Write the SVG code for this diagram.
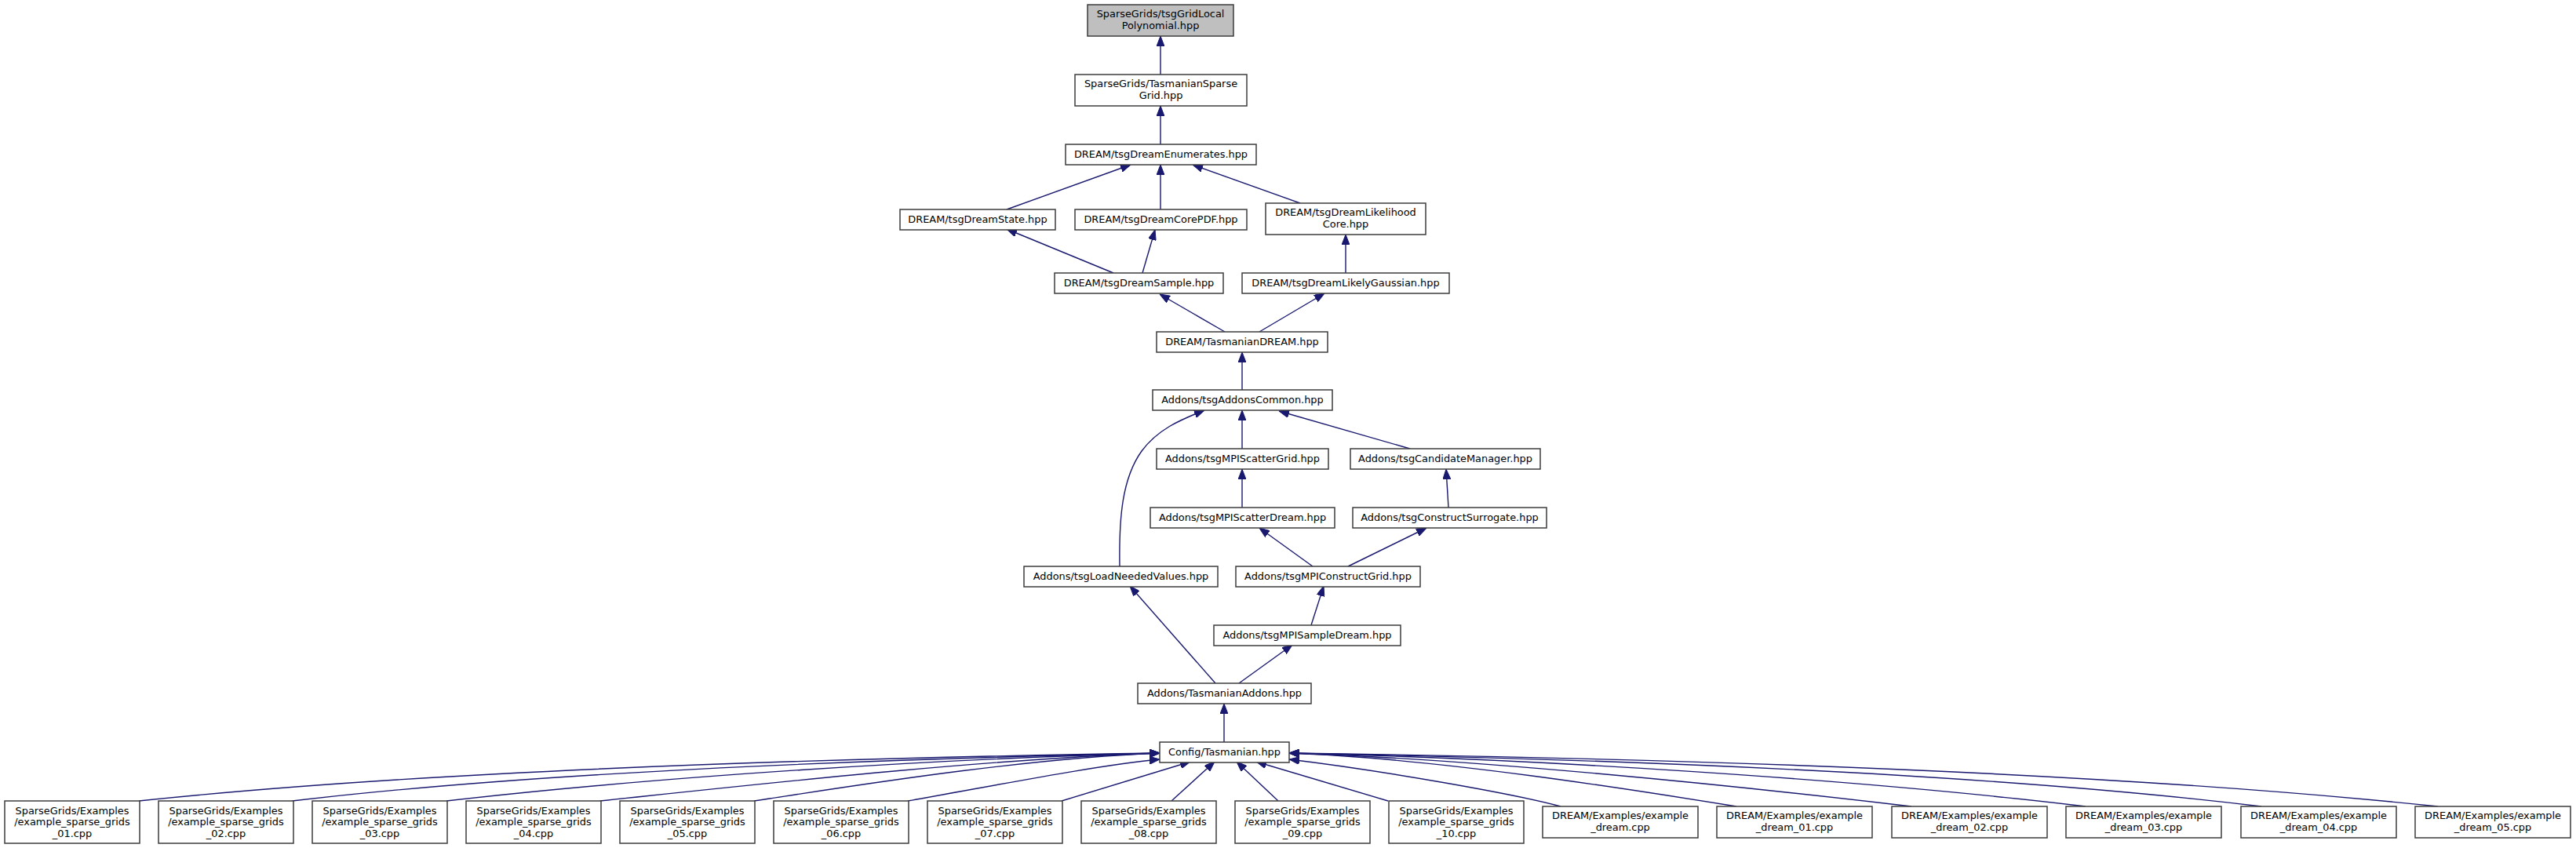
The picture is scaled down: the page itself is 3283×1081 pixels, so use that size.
<svg xmlns="http://www.w3.org/2000/svg" width="3283" height="1081" viewBox="0 0 3283 1081">
<style>
.node rect{fill:#ffffff;stroke:#3c3c3c;stroke-width:1.5}
.node.root rect{fill:#bfbfbf}
.node text{font-family:"DejaVu Sans","Liberation Sans",sans-serif;font-size:12.9px;text-anchor:middle;fill:#000}
.edges path{fill:none;stroke:#191970;stroke-width:1.4;marker-end:url(#arr)}
</style>
<defs>
<marker id="arr" viewBox="0 0 13 10" refX="13" refY="5" markerWidth="13" markerHeight="10" markerUnits="userSpaceOnUse" orient="auto">
<polygon points="0,0 13,5 0,10" fill="#191970" stroke="#191970" stroke-width="1"/>
</marker>
</defs>
<rect x="0" y="0" width="3283" height="1081" fill="#ffffff"/>
<g class="edges">
<path d="M1479,95 L1479,46"/>
<path d="M1479,184 L1479,135"/>
<path d="M1283,267 L1441,210"/>
<path d="M1479,267 L1479,210"/>
<path d="M1657,259 L1520,210"/>
<path d="M1419,348 L1283,292"/>
<path d="M1456,348 L1472,293"/>
<path d="M1715,348 L1715,299"/>
<path d="M1561,423 L1478,375"/>
<path d="M1605,423 L1688,374"/>
<path d="M1583,497 L1583,449"/>
<path d="M1583,572 L1583,523"/>
<path d="M1427,722 C1426,660 1430,610 1455,575 C1475,548 1502,536 1535,523"/>
<path d="M1797,572 L1630,524"/>
<path d="M1583,647 L1583,598"/>
<path d="M1846,647 L1843,598"/>
<path d="M1673,722 L1605,673"/>
<path d="M1718,722 L1818,673"/>
<path d="M1671,797 L1687,747"/>
<path d="M1549,871 L1440,747"/>
<path d="M1579,871 L1647,822"/>
<path d="M1560,946 L1560,897"/>
<path d="M177,1021 C567,980 1088,966 1478,960"/>
<path d="M372.5,1021 C702,982 1150,967 1478,960"/>
<path d="M569,1021 C839,990 1200,967 1478,960"/>
<path d="M764.7,1021 C964,1000 1250,968 1478,960"/>
<path d="M961,1021 C1080,1003 1300,967 1478,960"/>
<path d="M1157,1021 C1260,1003 1400,975 1478,968"/>
<path d="M1353,1021 L1517,971"/>
<path d="M1493,1021 L1548,971"/>
<path d="M1629,1021 L1576,971"/>
<path d="M1769,1021 L1601,971"/>
<path d="M1989,1028 C1930,1012 1760,982 1643,968"/>
<path d="M2213,1028 C2083,1007 1833,967 1643,960"/>
<path d="M2436,1028 C2216,1002 1888,968 1643,960"/>
<path d="M2658,1028 C2358,992 1943,967 1643,960"/>
<path d="M2882,1028 C2510,983 2015,967 1643,960"/>
<path d="M3107,1028 C2667,982 2083,966 1643,960"/>
</g>
<g id="n_localpoly" class="node root"><rect x="1386" y="6" width="186" height="40"/><text x="1479" y="22">SparseGrids/tsgGridLocal</text><text x="1479" y="37">Polynomial.hpp</text></g>
<g id="n_tsg" class="node"><rect x="1370" y="95" width="219" height="40"/><text x="1479.5" y="111">SparseGrids/TasmanianSparse</text><text x="1479.5" y="126">Grid.hpp</text></g>
<g id="n_enum" class="node"><rect x="1358" y="184" width="243" height="26"/><text x="1479.5" y="201.3">DREAM/tsgDreamEnumerates.hpp</text></g>
<g id="n_state" class="node"><rect x="1147" y="267" width="198" height="26"/><text x="1246" y="284.3">DREAM/tsgDreamState.hpp</text></g>
<g id="n_corepdf" class="node"><rect x="1370" y="267" width="219" height="26"/><text x="1479.5" y="284.3">DREAM/tsgDreamCorePDF.hpp</text></g>
<g id="n_likecore" class="node"><rect x="1613" y="259" width="204" height="40"/><text x="1715" y="275">DREAM/tsgDreamLikelihood</text><text x="1715" y="290">Core.hpp</text></g>
<g id="n_sample" class="node"><rect x="1344" y="348" width="215" height="26"/><text x="1451.5" y="365.3">DREAM/tsgDreamSample.hpp</text></g>
<g id="n_gauss" class="node"><rect x="1583" y="348" width="264" height="26"/><text x="1715" y="365.3">DREAM/tsgDreamLikelyGaussian.hpp</text></g>
<g id="n_tdream" class="node"><rect x="1474" y="423" width="218" height="26"/><text x="1583" y="440.3">DREAM/TasmanianDREAM.hpp</text></g>
<g id="n_common" class="node"><rect x="1469" y="497" width="229" height="26"/><text x="1583.5" y="514.3">Addons/tsgAddonsCommon.hpp</text></g>
<g id="n_scattergrid" class="node"><rect x="1474" y="572" width="219" height="26"/><text x="1583.5" y="589.3">Addons/tsgMPIScatterGrid.hpp</text></g>
<g id="n_candidate" class="node"><rect x="1721" y="572" width="242" height="26"/><text x="1842" y="589.3">Addons/tsgCandidateManager.hpp</text></g>
<g id="n_scatterdream" class="node"><rect x="1466" y="647" width="235" height="26"/><text x="1583.5" y="664.3">Addons/tsgMPIScatterDream.hpp</text></g>
<g id="n_surrogate" class="node"><rect x="1724" y="647" width="247" height="26"/><text x="1847.5" y="664.3">Addons/tsgConstructSurrogate.hpp</text></g>
<g id="n_loadneeded" class="node"><rect x="1305" y="722" width="247" height="26"/><text x="1428.5" y="739.3">Addons/tsgLoadNeededValues.hpp</text></g>
<g id="n_mpiconstruct" class="node"><rect x="1575" y="722" width="235" height="26"/><text x="1692.5" y="739.3">Addons/tsgMPIConstructGrid.hpp</text></g>
<g id="n_mpisample" class="node"><rect x="1547" y="797" width="238" height="26"/><text x="1666" y="814.3">Addons/tsgMPISampleDream.hpp</text></g>
<g id="n_addons" class="node"><rect x="1450" y="871" width="221" height="26"/><text x="1560.5" y="888.3">Addons/TasmanianAddons.hpp</text></g>
<g id="n_config" class="node"><rect x="1478" y="946" width="165" height="26"/><text x="1560.5" y="963.3">Config/Tasmanian.hpp</text></g>
<g id="n_sg01" class="node"><rect x="6" y="1021" width="172" height="54"/><text x="92" y="1037.5">SparseGrids/Examples</text><text x="92" y="1052">/example_sparse_grids</text><text x="92" y="1066.5">_01.cpp</text></g>
<g id="n_sg02" class="node"><rect x="202" y="1021" width="172" height="54"/><text x="288" y="1037.5">SparseGrids/Examples</text><text x="288" y="1052">/example_sparse_grids</text><text x="288" y="1066.5">_02.cpp</text></g>
<g id="n_sg03" class="node"><rect x="398" y="1021" width="172" height="54"/><text x="484" y="1037.5">SparseGrids/Examples</text><text x="484" y="1052">/example_sparse_grids</text><text x="484" y="1066.5">_03.cpp</text></g>
<g id="n_sg04" class="node"><rect x="594" y="1021" width="172" height="54"/><text x="680" y="1037.5">SparseGrids/Examples</text><text x="680" y="1052">/example_sparse_grids</text><text x="680" y="1066.5">_04.cpp</text></g>
<g id="n_sg05" class="node"><rect x="790" y="1021" width="172" height="54"/><text x="876" y="1037.5">SparseGrids/Examples</text><text x="876" y="1052">/example_sparse_grids</text><text x="876" y="1066.5">_05.cpp</text></g>
<g id="n_sg06" class="node"><rect x="986" y="1021" width="172" height="54"/><text x="1072" y="1037.5">SparseGrids/Examples</text><text x="1072" y="1052">/example_sparse_grids</text><text x="1072" y="1066.5">_06.cpp</text></g>
<g id="n_sg07" class="node"><rect x="1182" y="1021" width="172" height="54"/><text x="1268" y="1037.5">SparseGrids/Examples</text><text x="1268" y="1052">/example_sparse_grids</text><text x="1268" y="1066.5">_07.cpp</text></g>
<g id="n_sg08" class="node"><rect x="1378" y="1021" width="172" height="54"/><text x="1464" y="1037.5">SparseGrids/Examples</text><text x="1464" y="1052">/example_sparse_grids</text><text x="1464" y="1066.5">_08.cpp</text></g>
<g id="n_sg09" class="node"><rect x="1574" y="1021" width="172" height="54"/><text x="1660" y="1037.5">SparseGrids/Examples</text><text x="1660" y="1052">/example_sparse_grids</text><text x="1660" y="1066.5">_09.cpp</text></g>
<g id="n_sg10" class="node"><rect x="1770" y="1021" width="172" height="54"/><text x="1856" y="1037.5">SparseGrids/Examples</text><text x="1856" y="1052">/example_sparse_grids</text><text x="1856" y="1066.5">_10.cpp</text></g>
<g id="n_dream" class="node"><rect x="1966" y="1028" width="198" height="40"/><text x="2065" y="1044">DREAM/Examples/example</text><text x="2065" y="1059">_dream.cpp</text></g>
<g id="n_dream01" class="node"><rect x="2188" y="1028" width="198" height="40"/><text x="2287" y="1044">DREAM/Examples/example</text><text x="2287" y="1059">_dream_01.cpp</text></g>
<g id="n_dream02" class="node"><rect x="2411" y="1028" width="198" height="40"/><text x="2510" y="1044">DREAM/Examples/example</text><text x="2510" y="1059">_dream_02.cpp</text></g>
<g id="n_dream03" class="node"><rect x="2633" y="1028" width="198" height="40"/><text x="2732" y="1044">DREAM/Examples/example</text><text x="2732" y="1059">_dream_03.cpp</text></g>
<g id="n_dream04" class="node"><rect x="2856" y="1028" width="198" height="40"/><text x="2955" y="1044">DREAM/Examples/example</text><text x="2955" y="1059">_dream_04.cpp</text></g>
<g id="n_dream05" class="node"><rect x="3078" y="1028" width="198" height="40"/><text x="3177" y="1044">DREAM/Examples/example</text><text x="3177" y="1059">_dream_05.cpp</text></g>
</svg>
